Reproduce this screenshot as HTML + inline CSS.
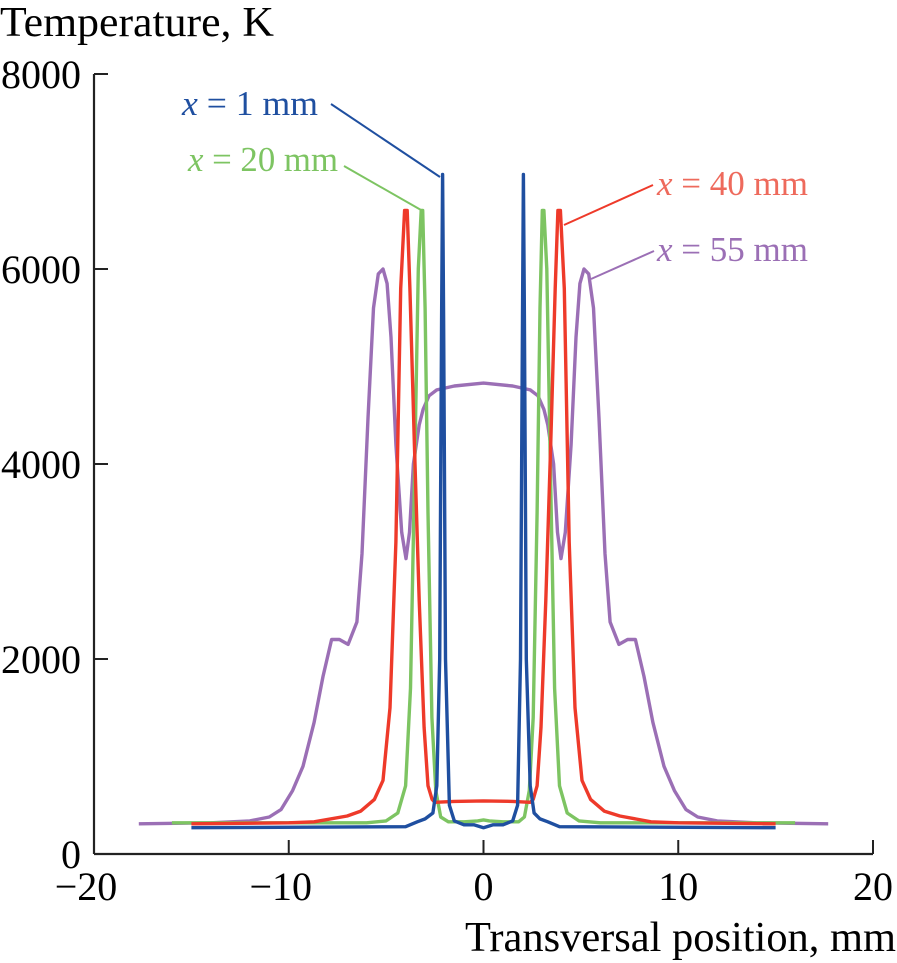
<!DOCTYPE html>
<html><head><meta charset="utf-8"><style>
html,body{margin:0;padding:0;background:#fff;}
svg{display:block;font-family:"Liberation Serif",serif;}
</style></head><body>
<svg id="chart" width="897" height="963" viewBox="0 0 897 963" xmlns="http://www.w3.org/2000/svg">
<g id="axes"></g>
<g id="series"></g>
<text x="0" y="36" font-size="42" textLength="274" lengthAdjust="spacingAndGlyphs">Temperature, K</text>
<text x="465" y="951" font-size="42" textLength="431" lengthAdjust="spacingAndGlyphs">Transversal position, mm</text>
<g>
<text x="182" y="115" font-size="35" fill="#1f4fa0" textLength="136" lengthAdjust="spacingAndGlyphs"><tspan font-style="italic">x</tspan> = 1 mm</text>
<line x1="331" y1="104" x2="440" y2="177" stroke="#1f4fa0" stroke-width="2"/></g>
<g>
<text x="188" y="171" font-size="35" fill="#7dc462" textLength="150" lengthAdjust="spacingAndGlyphs"><tspan font-style="italic">x</tspan> = 20 mm</text>
<line x1="344" y1="166" x2="421" y2="210" stroke="#7dc462" stroke-width="2"/></g>
<g>
<text x="657" y="195" font-size="35" fill="#ee6a5c" textLength="151" lengthAdjust="spacingAndGlyphs"><tspan font-style="italic">x</tspan> = 40 mm</text>
<line x1="653" y1="185" x2="564" y2="225" stroke="#ee3a2a" stroke-width="2"/></g>
<g>
<text x="657" y="261" font-size="35" fill="#9b6fb5" textLength="151" lengthAdjust="spacingAndGlyphs"><tspan font-style="italic">x</tspan> = 55 mm</text>
<line x1="654" y1="251" x2="591" y2="279" stroke="#9b6fb5" stroke-width="2"/></g>
</svg>
<script>
const xTicks=[-20,-10,0,10,20];
const yTicks=[0,2000,4000,6000,8000];
const blueX=[-15,-4,-3.4,-3,-2.6,-2.4,-2.25,-2.15,-2.1,-2.05,-1.95,-1.75,-1.5,-1,-0.5,0,0.5,1,1.5,1.75,1.9,2.0,2.05,2.1,2.2,2.4,2.6,2.9,3.3,3.9,15];
const blueT=[270,280,330,360,420,700,2000,5500,6970,5500,2000,500,340,300,300,270,300,300,340,500,2000,5500,6970,5500,2000,700,420,360,330,280,270];
const greenX=[-16,-6,-5,-4.4,-4,-3.75,-3.55,-3.35,-3.2,-3.12,-3.0,-2.85,-2.65,-2.45,-2.2,-1.8,-1,-0.3,0,0.3,1,1.8,2.1,2.35,2.55,2.75,2.9,3.02,3.1,3.25,3.45,3.65,3.9,4.3,4.9,6,16];
const greenT=[320,320,340,420,700,1700,3800,6000,6600,6600,5600,3500,1400,650,380,330,330,340,350,340,330,330,380,650,1400,3500,5600,6600,6600,6000,3800,1700,700,420,340,320,320];
const redX=[-15,-10,-8.7,-7,-6.3,-5.6,-5.16,-4.8,-4.5,-4.25,-4.05,-3.92,-3.78,-3.55,-3.3,-3.05,-2.85,-2.64,-2.5,-1.5,0,1.5,2.4,2.55,2.75,2.95,3.2,3.45,3.68,3.82,3.95,4.15,4.4,4.7,5.06,5.5,6.2,7,8.6,10,15];
const redT=[310,320,330,390,440,560,755,1500,3200,5800,6600,6600,5800,4200,2600,1300,700,560,530,540,545,540,530,560,700,1300,2600,4200,5800,6600,6600,5800,3200,1500,755,560,440,390,330,320,310];
const purpleX=[-17.7,-14,-12,-11,-10.4,-9.8,-9.27,-8.7,-8.24,-7.8,-7.4,-6.95,-6.5,-6.24,-5.93,-5.65,-5.4,-5.16,-4.95,-4.75,-4.5,-4.2,-3.98,-3.8,-3.6,-3.3,-3.1,-2.8,-2.4,-1.5,0,1.5,2.4,2.8,3.1,3.3,3.6,3.8,3.98,4.2,4.5,4.75,4.95,5.16,5.4,5.65,5.93,6.24,6.5,6.95,7.4,7.8,8.24,8.7,9.27,9.8,10.4,11,12,14,17.7];
const purpleT=[310,320,340,380,455,650,900,1350,1820,2200,2200,2150,2380,3080,4470,5600,5950,6000,5850,5300,4200,3300,3030,3300,4000,4400,4560,4700,4760,4800,4830,4800,4760,4700,4560,4400,4000,3300,3030,3300,4200,5300,5850,6000,5950,5600,4470,3080,2380,2150,2200,2200,1820,1350,900,650,455,380,340,320,310];
const X=v=>483.5+v*19.475;
const Y=t=>854-t*0.0975;
const NS='http://www.w3.org/2000/svg';
const axes=document.getElementById('axes');
function mk(tag,attrs,parent){const e=document.createElementNS(NS,tag);for(const k in attrs)e.setAttribute(k,attrs[k]);parent.appendChild(e);return e;}
const xl=mk('line',{x1:X(-20),y1:Y(0),x2:X(20),y2:Y(0),stroke:'#222','stroke-width':2.2},axes);


const yl=mk('line',{x1:X(-20),y1:Y(0),x2:X(-20),y2:Y(8000),stroke:'#222','stroke-width':2.2},axes);


xTicks.forEach(v=>{
  const t=mk('line',{x1:X(v),y1:Y(0),x2:X(v),y2:Y(0)-14,stroke:'#222','stroke-width':2},axes);
  
  
  const l=mk('text',{x:X(v)-(v<0?8:0),y:Y(0)+46,'font-size':40,'text-anchor':'middle'},axes);
  l.textContent=v<0?'\u2212'+(-v):String(v);
  
  
});
yTicks.forEach(v=>{
  const t=mk('line',{x1:X(-20),y1:Y(v),x2:X(-20)+14,y2:Y(v),stroke:'#222','stroke-width':2},axes);
  
  
  const l=mk('text',{x:81,y:Y(v)+14,'font-size':40,'text-anchor':'end'},axes);
  l.textContent=String(v);
  
  
});
const ser=document.getElementById('series');
function draw(xs,ts,color,name){
  const p=mk('polyline',{points:xs.map((x,i)=>X(x).toFixed(1)+','+Y(ts[i]).toFixed(1)).join(' '),fill:'none',stroke:color,'stroke-width':3.4,'stroke-linejoin':'round'},ser);
  
  
}
draw(purpleX,purpleT,'#9b6fb5','series-x55');
draw(greenX,greenT,'#7dc462','series-x20');
draw(redX,redT,'#ee3a2a','series-x40');
draw(blueX,blueT,'#1f4fa0','series-x1');
</script>
</body></html>
